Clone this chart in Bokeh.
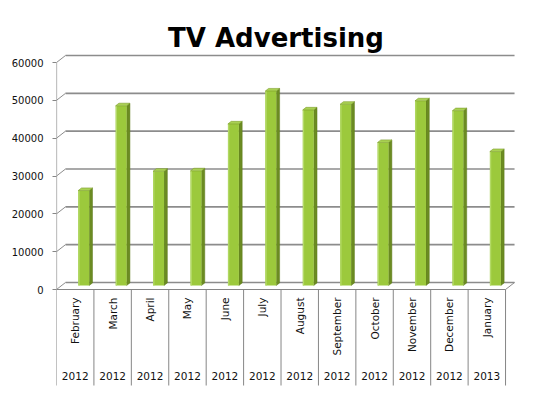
import math
from bokeh.plotting import figure
from bokeh.models import Range1d, FixedTicker, NumeralTickFormatter
from bokeh.core.properties import value
from bokeh.embed import file_html
from bokeh.resources import INLINE

# ---------------- data ----------------
title_text = "TV Advertising"
months = ["February", "March", "April", "May", "June", "July", "August",
          "September", "October", "November", "December", "January"]
years = ["2012", "2012", "2012", "2012", "2012", "2012", "2012",
         "2012", "2012", "2012", "2012", "2013"]
spend = [25100, 47500, 30200, 30300, 42700, 51400, 46400,
         47900, 37800, 48800, 46200, 35400]
y_ticks = [0, 10000, 20000, 30000, 40000, 50000, 60000]

# ---------------- layout (pixels -> data units) ----------------
W, H = 535, 386
LEFT = 56                 # frame left edge (figure px)
CAT_PX = 37.42            # px per category
UNIT_PX = 227.0 / 60000   # px per value unit
Y0_PX = 289               # figure px of value 0 on front plane


def dx(px):
    return px / CAT_PX


def dy(px):
    return px / UNIT_PX


n = len(months)
x_end = (W - LEFT) / CAT_PX
y_top = dy(Y0_PX)
y_bot = -dy(H - Y0_PX)

WX, WY = dx(9), dy(7)          # back wall offset
SHIFT = dx(8.5)                # bar face centre offset from category centre
FW = dx(11)                    # bar face width
BASE = dy(4)                   # bar base lift (depth)
BX, BY = dx(3.3), dy(2.6)      # bar depth

GRID = "#8c8c8c"
AXIS = "#868686"

p = figure(width=W, height=H, x_range=Range1d(0, x_end), y_range=Range1d(y_bot, y_top),
           x_axis_type=None, output_backend="svg", toolbar_location=None,
           min_border_left=LEFT, min_border_right=0, min_border_top=0, min_border_bottom=0)
p.outline_line_color = None
p.ygrid.visible = False
p.background_fill_color = "white"
p.border_fill_color = "white"

ax = p.yaxis[0]
ax.ticker = FixedTicker(ticks=y_ticks)
ax.formatter = NumeralTickFormatter(format="0")
ax.axis_line_color = None
ax.minor_tick_line_color = None
ax.major_tick_in = 0
ax.major_tick_out = 4
ax.major_tick_line_color = AXIS
ax.major_label_standoff = 9
ax.major_label_text_font = "DejaVu Sans"
ax.major_label_text_font_size = "10px"
ax.major_label_text_color = "#111111"

# back wall gridlines + diagonals
top_v = max(y_ticks)
p.segment(x0=[WX] * len(y_ticks), y0=[v + WY for v in y_ticks],
          x1=[n + WX] * len(y_ticks), y1=[v + WY for v in y_ticks],
          line_color=GRID, line_width=1.7)
p.segment(x0=[0] * len(y_ticks), y0=y_ticks,
          x1=[WX] * len(y_ticks), y1=[v + WY for v in y_ticks],
          line_color=GRID, line_width=1)
# floor right diagonal + front axis lines
p.segment(x0=[n], y0=[0], x1=[n + WX], y1=[WY], line_color=GRID, line_width=1)
p.segment(x0=[0], y0=[0], x1=[n], y1=[0], line_color=AXIS, line_width=1.2)
p.segment(x0=[0], y0=[0], x1=[0], y1=[top_v], line_color=AXIS, line_width=1.2)

# bars
lefts = [i + 0.5 + SHIFT - FW / 2 for i in range(n)]
rights = [i + 0.5 + SHIFT + FW / 2 for i in range(n)]
tops = [BASE + v for v in spend]
side_xs = [[r, r + BX, r + BX, r] for r in rights]
side_ys = [[BASE, BASE + BY, t + BY, t] for t in tops]
p.patches(side_xs, side_ys, fill_color="#6b8b22", line_color="#5f7c1d", line_width=0.5)
p.quad(left=lefts, right=rights, bottom=[BASE] * n, top=tops,
       fill_color="#9cc93c", line_color=None)
p.segment(x0=[l + dx(0.8) for l in lefts], y0=[BASE] * n,
          x1=[l + dx(0.8) for l in lefts], y1=tops,
          line_color="#b4da68", line_width=1.2)
top_xs = [[l, r, r + BX, l + BX] for l, r in zip(lefts, rights)]
top_ys = [[t, t, t + BY, t + BY] for t in tops]
p.patches(top_xs, top_ys, fill_color="#a9d153", line_color="#7d9e2c", line_width=0.6)

# category separators
bounds = list(range(n + 1))
sep_bottom = -dy(385 - Y0_PX)
p.segment(x0=bounds, y0=[0] * (n + 1), x1=bounds, y1=[sep_bottom] * (n + 1),
          line_color=AXIS, line_width=1)

centres = [i + 0.5 for i in range(n)]
p.text(x=centres, y=[-dy(297 - Y0_PX)] * n, text=months, angle=math.pi / 2,
       text_align="right", text_baseline="middle",
       text_font=value("DejaVu Sans"), text_font_size="10.5px", text_color="#111111")
p.text(x=centres, y=[-dy(375 - Y0_PX)] * n, text=years,
       text_align="center", text_baseline="middle",
       text_font=value("DejaVu Sans"), text_font_size="10.5px", text_color="#111111")

# title
p.text(x=[dx(275.5 - LEFT)], y=[dy(Y0_PX - 37)], text=[title_text],
       text_align="center", text_baseline="alphabetic",
       text_font=value("DejaVu Sans"), text_font_style="bold",
       text_font_size="26px", text_color="black")

open("out.html", "w").write(file_html(p, INLINE))
